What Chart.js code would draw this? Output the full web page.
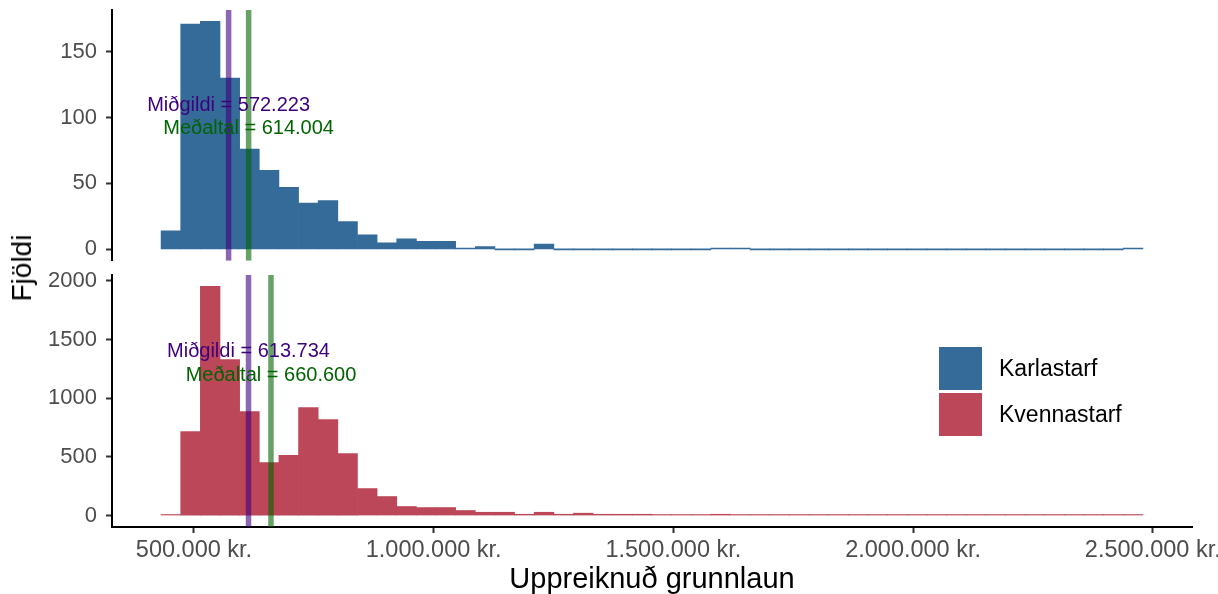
<!DOCTYPE html>
<html>
<head>
<meta charset="utf-8">
<script src="https://cdn.jsdelivr.net/npm/chart.js@4"></script>
<style>
  html, body { margin: 0; padding: 0; background: #fff; }
  body { width: 1218px; height: 594px; position: relative; overflow: hidden;
         font-family: "Liberation Sans", Arial, sans-serif; }
  canvas { position: absolute; left: 0; }
  #chart-karla { top: 0; }
  #chart-kvenna { top: 262px; }
  .ytitle { position: absolute; left: 22px; top: 268px; transform: translate(-50%, -50%) rotate(-90deg);
            font-size: 28px; color: #000; white-space: nowrap; }
  .legend { position: absolute; left: 939px; top: 347px; }
  .legend .row { display: flex; height: 46px; }
  .legend .key { width: 43px; height: 43px; }
  .legend .lab { margin-left: 17px; font-size: 23px; line-height: 43px; color: #000; }
</style>
</head>
<body>
<canvas id="chart-karla" width="1218" height="270"></canvas>
<canvas id="chart-kvenna" width="1218" height="332"></canvas>
<div class="ytitle">Fjöldi</div>
<div class="legend" id="legend"></div>
<script>
(function () {
  "use strict";

  // histogram bins (kr.), 50 bins shared by both panels
  const BIN_LEFT = 431400;
  const BIN_WIDTH = 40960;

  const KARLA_COUNTS = [
    14, 171, 173, 130, 76, 60, 47, 35, 37, 21,
    11, 5, 8, 6, 6, 1, 2, 0, 0, 4,
    0, 0, 0, 0, 0, 0, 0, 0, 1, 1,
    0, 0, 0, 0, 0, 0, 0, 0, 0, 0,
    0, 0, 0, 0, 0, 0, 0, 0, 0, 1,
  ];
  const KVENNA_COUNTS = [
    8, 715, 1952, 1328, 885, 451, 513, 919, 817, 528,
    230, 162, 77, 68, 68, 43, 28, 28, 11, 28,
    11, 20, 11, 11, 11, 3, 3, 3, 11, 3,
    2, 2, 2, 2, 2, 2, 2, 2, 2, 2,
    2, 1, 1, 1, 1, 1, 1, 1, 1, 2,
  ];

  const X_TICKS = [500000, 1000000, 1500000, 2000000, 2500000];
  const KARLA_TICKS = [0, 50, 100, 150];
  const KVENNA_TICKS = [0, 500, 1000, 1500, 2000];

  const KARLA_STATS = { median: 572223, mean: 614004, labelY: [109, 92] };
  const KVENNA_STATS = { median: 613734, mean: 660600, labelY: [1400, 1195] };

  const SERIES = ["Karlastarf", "Kvennastarf"];
  const COLORS = {
    karla: "#346b99",
    kvenna: "#bc4758",
    median: "rgba(63,0,125,0.6)",
    mean: "rgba(0,100,0,0.6)",
    medianText: "#3f007d",
    meanText: "#006400",
    tick: "#4d4d4d",
  };
  const FAMILY = '"Liberation Sans", Arial, sans-serif';

  const X_MIN = BIN_LEFT - 2.5 * BIN_WIDTH;
  const X_MAX = BIN_LEFT + 52.5 * BIN_WIDTH;

  function fmt(v) {
    return String(Math.round(v)).replace(/\B(?=(\d{3})+(?!\d))/g, ".");
  }

  function binData(counts) {
    return counts.map((c, i) => ({ x: BIN_LEFT + (i + 0.5) * BIN_WIDTH, y: c }));
  }

  // median / mean lines with their labels
  const refLines = {
    id: "refLines",
    afterDatasetsDraw(chart, args, opts) {
      const { ctx, chartArea: a } = chart;
      const x = chart.scales.x, y = chart.scales.y;
      ctx.save();
      ctx.beginPath();
      ctx.rect(a.left, a.top, a.right - a.left, a.bottom - a.top);
      ctx.clip();
      [[opts.median, COLORS.median], [opts.mean, COLORS.mean]].forEach(([v, c]) => {
        const px = x.getPixelForValue(v);
        ctx.strokeStyle = c;
        ctx.lineWidth = 5.5;
        ctx.beginPath();
        ctx.moveTo(px, a.top);
        ctx.lineTo(px, a.bottom);
        ctx.stroke();
      });
      ctx.font = "20px " + FAMILY;
      ctx.textAlign = "center";
      ctx.textBaseline = "middle";
      ctx.fillStyle = COLORS.medianText;
      ctx.fillText("Miðgildi = " + fmt(opts.median), x.getPixelForValue(opts.median), y.getPixelForValue(opts.labelY[0]));
      ctx.fillStyle = COLORS.meanText;
      ctx.fillText("Meðaltal = " + fmt(opts.mean), x.getPixelForValue(opts.mean), y.getPixelForValue(opts.labelY[1]));
      ctx.restore();
    },
  };

  function yScale(counts, ticks) {
    const top = Math.max(...counts);
    const pad = top * 0.05;
    return {
      min: -pad,
      max: top + pad,
      afterBuildTicks: (s) => { s.ticks = ticks.map((v) => ({ value: v })); },
      afterFit: (s) => {
        s.width = 112;
        s.paddingTop = 0;
        s.paddingBottom = 0;
      },
      ticks: {
        callback: (v) => String(v),
        font: { size: 22, family: FAMILY },
        color: COLORS.tick,
        padding: 9,
      },
      grid: { display: true, drawOnChartArea: false, drawTicks: true, tickLength: 6, tickColor: "#333", tickWidth: 2 },
      border: { display: true, color: "#000", width: 2 },
    };
  }

  function histogram(canvasId, label, counts, color, stats, ticks, withAxis, padding) {
    const el = document.getElementById(canvasId);
    if (!el || typeof Chart === "undefined") return;
    const xScale = {
      type: "linear",
      min: X_MIN,
      max: X_MAX,
      offset: false,
      display: withAxis,
      afterBuildTicks: (s) => { s.ticks = X_TICKS.map((v) => ({ value: v })); },
      afterFit: (s) => {
        if (withAxis) s.height = 67;
        s.paddingLeft = 0;
        s.paddingRight = 0;
      },
      ticks: {
        callback: (v) => fmt(v) + " kr.",
        font: { size: 23.5, family: FAMILY },
        color: COLORS.tick,
        padding: 3,
        maxRotation: 0,
        autoSkip: false,
      },
      grid: { display: true, offset: false, drawOnChartArea: false, drawTicks: true, tickLength: 6, tickColor: "#333", tickWidth: 2 },
      border: { display: true, color: "#000", width: 2 },
      title: {
        display: true,
        text: "Uppreiknuð grunnlaun",
        color: "#000",
        font: { size: 29, family: FAMILY, lineHeight: 1.0 },
        padding: { top: 0, bottom: 0 },
      },
    };
    new Chart(el, {
      type: "bar",
      data: {
        datasets: [{
          label: label,
          data: binData(counts),
          backgroundColor: color,
          borderWidth: 0,
          barPercentage: 1,
          categoryPercentage: 1,
          minBarLength: 1,
          grouped: false,
        }],
      },
      options: {
        responsive: false,
        animation: false,
        layout: { padding: padding, autoPadding: false },
        plugins: {
          legend: { display: false },
          tooltip: { enabled: false },
          refLines: stats,
        },
        scales: { x: xScale, y: yScale(counts, ticks) },
      },
      plugins: [refLines],
    });
  }

  histogram("chart-karla", SERIES[0], KARLA_COUNTS, COLORS.karla, KARLA_STATS, KARLA_TICKS, false,
    { top: 10, right: 26, bottom: 9.3, left: 0 });
  histogram("chart-kvenna", SERIES[1], KVENNA_COUNTS, COLORS.kvenna, KVENNA_STATS, KVENNA_TICKS, true,
    { top: 13, right: 26, bottom: 0, left: 0 });

  // legend
  const legend = document.getElementById("legend");
  [[SERIES[0], COLORS.karla], [SERIES[1], COLORS.kvenna]].forEach(([name, color]) => {
    const row = document.createElement("div");
    row.className = "row";
    const key = document.createElement("div");
    key.className = "key";
    key.style.background = color;
    const lab = document.createElement("div");
    lab.className = "lab";
    lab.textContent = name;
    row.appendChild(key);
    row.appendChild(lab);
    legend.appendChild(row);
  });
})();
</script>
</body>
</html>
